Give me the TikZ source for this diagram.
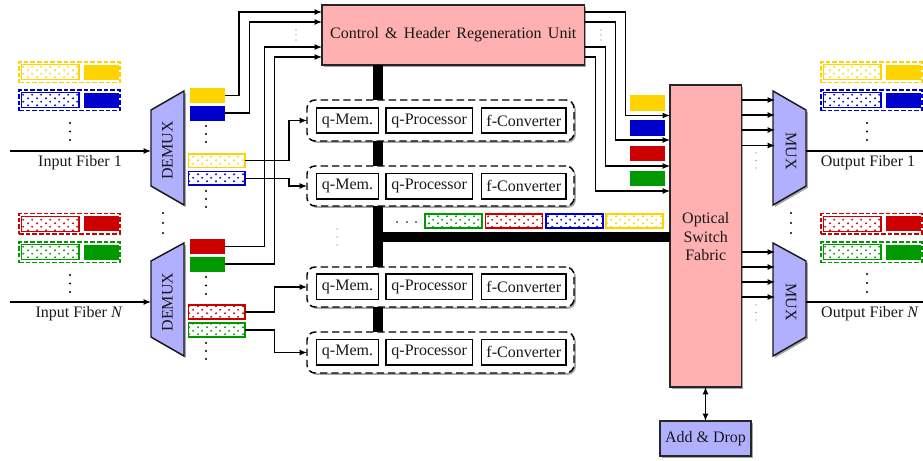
\documentclass[tikz,border=0pt]{standalone}
\usepackage{fontspec}
\setmainfont{Liberation Serif}
\usetikzlibrary{arrows.meta,shadows,patterns}
\definecolor{pinkf}{HTML}{FFB0B0}
\definecolor{bluef}{HTML}{B0B0FF}
\definecolor{cy}{HTML}{FFD300}
\definecolor{cb}{HTML}{0000CC}
\definecolor{cr}{HTML}{CC0000}
\definecolor{cg}{HTML}{009900}
\pgfdeclarepatternformonly{pdots}{\pgfpointorigin}{\pgfqpoint{6.4pt}{5.2pt}}{\pgfqpoint{6.4pt}{5.2pt}}{
  \pgfpathcircle{\pgfqpoint{1.6pt}{1.3pt}}{.8pt}
  \pgfpathcircle{\pgfqpoint{4.8pt}{3.9pt}}{.8pt}
  \pgfusepath{fill}}
\tikzset{
  shad/.style={drop shadow={shadow xshift=1.4pt,shadow yshift=-1.4pt,opacity=.35,fill=black}},
  conn/.style={line width=.8pt,-{Latex[length=5.5pt,width=4.4pt]}},
  bidir/.style={line width=.8pt,{Latex[length=5.5pt,width=4.4pt]}-{Latex[length=5.5pt,width=4.4pt]}},
  bus/.style={line width=7.5pt,black},
  txt/.style={font=\fontsize{12}{14}\selectfont,align=center,text=black!90},
  unit/.style={draw=black!85,line width=1.2pt,fill=pinkf,shad,txt},
  mod/.style={draw=black,line width=1.2pt,fill=white,txt},
  bluebox/.style={draw=black!85,line width=1.2pt,fill=bluef,shad,txt},
  group/.style={draw=black,line width=1.1pt,dash pattern=on 5.5pt off 3pt,rounded corners=6pt,fill=white,shad},
  solidp/.style={fill=#1,draw=none},
  dotp/.style={draw=#1,line width=.85pt,pattern=pdots,pattern color=#1},
  pkto/.style={draw=#1,line width=.8pt,dash pattern=on 3.4pt off 1.6pt},
  trap/.style={draw=black!90,line width=1.1pt,fill=bluef,shad,line join=miter},
  lab/.style={txt,inner sep=0pt}
}
\newcommand{\rbx}[6][]{%
  \pgfmathsetmacro\cxx{(#3+#5)/2}\pgfmathsetmacro\cyy{(#4+#6)/2}%
  \pgfmathsetmacro\ww{abs(#5-#3)*.75}\pgfmathsetmacro\hh{abs(#6-#4)*.75}%
  \node[inner sep=0pt,outer sep=0pt,minimum width=\ww pt,minimum height=\hh pt,#1] (#2) at (\cxx,\cyy)}
\newcommand{\vd}[5][black]{\foreach \yy in {#3,#4,#5} \fill[#1] (#2,\yy) circle (.85pt);}
\newcommand{\vdg}[4]{\foreach \yy in {#2,#3,#4} \fill[black!60] (#1,\yy) circle (.5pt);}
% full packet: name prefix, x0 of outer box, top y, colour
\newcommand{\pkt}[4]{%
  \pgfmathsetmacro\xa{#2}\pgfmathsetmacro\xb{#2+101}\pgfmathsetmacro\ya{#3}\pgfmathsetmacro\yb{#3+20.5}%
  \rbx[pkto=#4]{#1o}{\xa}{\ya}{\xb}{\yb}{};
  \pgfmathsetmacro\xa{#2+2.5}\pgfmathsetmacro\xb{#2+60}\pgfmathsetmacro\ya{#3+2.8}\pgfmathsetmacro\yb{#3+17.8}%
  \rbx[dotp=#4]{#1d}{\xa}{\ya}{\xb}{\yb}{};
  \pgfmathsetmacro\xa{#2+65}\pgfmathsetmacro\xb{#2+100}%
  \rbx[solidp=#4]{#1s}{\xa}{\ya}{\xb}{\yb}{};}
\begin{document}
\begin{tikzpicture}[x=.75pt,y=-.75pt]
\useasboundingbox (0,0) rectangle (923,460);
% stored packets
\pkt{la}{19}{62}{cy}\pkt{lb}{19}{90}{cb}\pkt{lc}{19}{213.5}{cr}\pkt{ld}{19}{242}{cg}
\pkt{ra}{821}{62}{cy}\pkt{rb}{821}{90}{cb}\pkt{rc}{821}{213.5}{cr}\pkt{rd}{821}{242}{cg}
\vd{70}{123}{131.5}{140}\vd{70}{275}{283.5}{292}
\vd{867}{123}{131.5}{140}\vd{867}{274}{283}{292}
\vd{163}{213}{223}{233}\vd{791}{213}{223}{233}
% bus spine coordinates
\coordinate (busx) at (378,0);
\coordinate (busy) at (0,237);
% units
\rbx[unit]{ctrl}{322}{5}{584.5}{65}{\spaceskip=4.7pt Control \& Header Regeneration Unit};
\rbx[unit]{sw}{670}{85}{741.5}{387}{\rule{0pt}{13pt}Optical\\Switch\\Fabric\\[-10pt]\mbox{}};
\rbx[bluebox]{ad}{660}{421}{751}{456}{Add \& Drop};
% memory groups
\rbx[group]{ga}{307}{100}{574}{141}{};
\rbx[group]{gb}{307}{166}{574}{206}{};
\rbx[group]{gc}{307}{267}{574}{307}{};
\rbx[group]{gd}{307}{332}{574}{373}{};
\foreach \n/\ya/\yb in {a/108/133,b/173.5/199,c/274/299.5,d/339.5/365}{
  \rbx[mod]{m\n}{316.5}{\ya}{378.5}{\yb}{q-Mem.};
  \rbx[mod]{p\n}{386}{\ya}{472.5}{\yb}{q-Processor};
  \rbx[mod]{f\n}{481.5}{\ya}{566}{\yb}{f-Converter};
}
% thick buses
\draw[bus] (ctrl.south -| busx) -- (ga.north -| busx);
\draw[bus] (ga.south -| busx) -- (gb.north -| busx);
\draw[bus] (gb.south -| busx) -- (gc.north -| busx);
\draw[bus] (gc.south -| busx) -- (gd.north -| busx);
\draw[bus] (busx |- busy) -- (sw.west |- busy);
% bus packets
\rbx[dotp=cg]{ba}{425}{214}{482}{228}{};
\rbx[dotp=cr]{bb}{485.5}{214}{542.5}{228}{};
\rbx[dotp=cb]{bc}{546}{214}{603}{228}{};
\rbx[dotp=cy]{bd}{606}{214}{663}{228}{};
\foreach \xx in {397,407,416} \fill[black] (\xx,222) circle (.7pt);
% demux / mux
\draw[trap] (151,110) -- (184,91) -- (184,205) -- (151,186) -- cycle;
\draw[trap] (151,261) -- (184,243) -- (184,356) -- (151,337) -- cycle;
\draw[trap] (773,91) -- (806,110) -- (806,186) -- (773,205) -- cycle;
\draw[trap] (773,243) -- (806,261) -- (806,337) -- (773,356) -- cycle;
\node[lab,rotate=90] (dm1) at (167.5,150.5) {DEMUX};
\node[lab,rotate=90] (dm2) at (167.5,302) {DEMUX};
\node[lab,rotate=-90] (mx1) at (791,151) {MUX};
\node[lab,rotate=-90] (mx2) at (791,302) {MUX};
% fibres
\coordinate (fi1) at (10,151);\coordinate (fi1e) at (151,151);
\coordinate (fi2) at (10,302);\coordinate (fi2e) at (151,302);
\coordinate (fo1) at (806,151);\coordinate (fo1e) at (923,151);
\coordinate (fo2) at (806,302);\coordinate (fo2e) at (923,302);
\draw[conn] (fi1) -- (fi1e);
\draw[conn] (fi2) -- (fi2e);
\draw[line width=.8pt] (fo1) -- (fo1e);
\draw[line width=.8pt] (fo2) -- (fo2e);
\node[lab] (li1) at (80,163) {Input Fiber 1};
\node[lab] (li2) at (79,314) {Input Fiber \textit{N}};
\node[lab] (lo1) at (868,163) {Output Fiber 1};
\node[lab] (lo2) at (870,314) {Output Fiber \textit{N}};
% demux outputs
\rbx[solidp=cy]{sa}{190}{88}{225}{103}{};
\rbx[solidp=cb]{sb}{190}{105.5}{225}{120.5}{};
\rbx[solidp=cr]{sc}{190}{239}{225}{254}{};
\rbx[solidp=cg]{sd}{190}{256.5}{225}{271.5}{};
\rbx[dotp=cy]{da}{188.5}{154}{245}{167.5}{};
\rbx[dotp=cb]{db}{188.5}{171.5}{245}{185}{};
\rbx[dotp=cr]{dc}{188.5}{305}{245}{319}{};
\rbx[dotp=cg]{dd}{188.5}{323}{245}{337}{};
\vd{206}{126}{134}{142}\vd{206}{191}{199}{207}
\vd{206}{277}{285.5}{294}\vd{206}{343}{351}{359}
% headers to control unit
\coordinate (v1) at (239,12);\coordinate (v2) at (249.5,22);
\coordinate (v3) at (264.5,47);\coordinate (v4) at (274.5,57);
\draw[conn] (sa.east) -| (v1) -- (ctrl.west |- v1);
\draw[conn] (sb.east) -| (v2) -- (ctrl.west |- v2);
\draw[conn] (sc.east) -| (v3) -- (ctrl.west |- v3);
\draw[conn] (sd.east) -| (v4) -- (ctrl.west |- v4);
\vdg{296}{30}{35}{40}
% payloads to memories
\coordinate (b1) at (289,0);\coordinate (b2) at (274.5,0);
\draw[conn] (da.east) -| (b1 |- ga.west) -- (ga.west);
\draw[conn] (db.east) -| (b1 |- gb.west) -- (gb.west);
\draw[conn] (dc.east) -| (b2 |- gc.west) -- (gc.west);
\draw[conn] (dd.east) -| (b2 |- gd.west) -- (gd.west);
% control to fabric
\coordinate (w1) at (625.7,12);\coordinate (x1) at (625.7,115.5);
\coordinate (w2) at (615.7,22);\coordinate (x2) at (615.7,140);
\coordinate (w3) at (605.7,47);\coordinate (x3) at (605.7,166);
\coordinate (w4) at (595.7,57);\coordinate (x4) at (595.7,191);
\draw[conn] (ctrl.east |- w1) -- (w1) -- (x1) -- (sw.west |- x1);
\draw[conn] (ctrl.east |- w2) -- (w2) -- (x2) -- (sw.west |- x2);
\draw[conn] (ctrl.east |- w3) -- (w3) -- (x3) -- (sw.west |- x3);
\draw[conn] (ctrl.east |- w4) -- (w4) -- (x4) -- (sw.west |- x4);
\vdg{601}{30}{35}{40}
\vdg{337}{229}{237}{245}
\rbx[solidp=cy]{ta}{630}{95}{665}{111}{};
\rbx[solidp=cb]{tb}{630}{120}{665}{136}{};
\rbx[solidp=cr]{tc}{630}{145.5}{665}{161}{};
\rbx[solidp=cg]{td}{630}{171}{665}{186}{};
% fabric to mux
\foreach \i/\yy in {1/100,2/115,3/130,4/145.5,5/252,6/267,7/282,8/297}{
  \coordinate (mi\i) at (775,\yy);
  \draw[conn] (sw.east |- mi\i) -- (mi\i);
}
\vdg{756}{153}{160.5}{168}
\vdg{756}{305}{312.5}{320}
% add and drop
\draw[bidir] (ad.north |- sw.south) -- (ad.north);
\end{tikzpicture}
\end{document}
